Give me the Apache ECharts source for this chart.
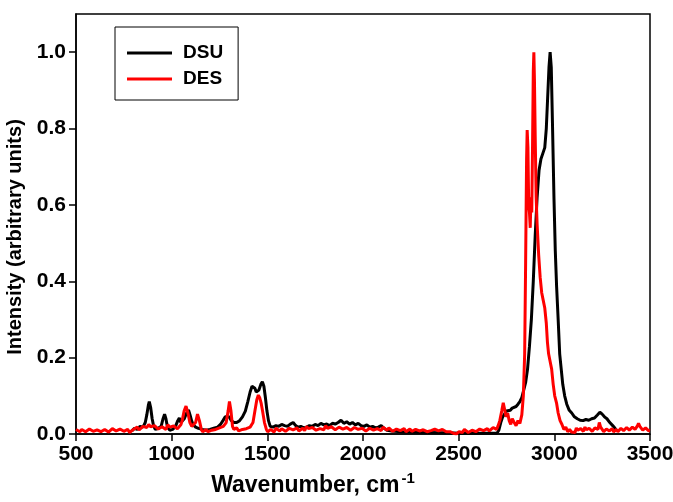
<!DOCTYPE html>
<html lang="en">
  <head>
    <meta charset="UTF-8" />
    <title>DSU / DES spectra</title>
    <script src="https://cdn.jsdelivr.net/npm/echarts@6/dist/echarts.min.js"></script>
    <style>
      html, body { margin: 0; padding: 0; background: #fff; }
      #chart { width: 673px; height: 502px; }
    </style>
  </head>
  <body>
    <div id="chart"></div>
    <script>
      // axis ticks
      var xTicks = [500, 1000, 1500, 2000, 2500, 3000, 3500];
      var yTicks = [0.0, 0.2, 0.4, 0.6, 0.8, 1.0];

      // DSU (black) - [wavenumber, intensity]
      var dsu = [
        [792, .008], [805, .015], [820, .012], [835, .020], [850, .018], [862, .030], [870, .050], [878, .075],
        [883, .085], [890, .070], [898, .040], [906, .020], [915, .012], [930, .015], [945, .020], [955, .040],
        [963, .052], [970, .040], [978, .018], [990, .010], [1005, .012], [1020, .020], [1032, .035], [1040, .042],
        [1048, .030], [1056, .025], [1066, .040], [1078, .055], [1088, .063], [1096, .050], [1104, .035], [1112, .025],
        [1125, .018], [1140, .015], [1160, .012], [1180, .010], [1200, .012], [1220, .015], [1240, .018], [1255, .025],
        [1268, .035], [1280, .045], [1290, .050], [1300, .045], [1312, .035], [1325, .030], [1340, .030], [1355, .035],
        [1370, .045], [1385, .060], [1398, .085], [1410, .110], [1420, .125], [1427, .130], [1435, .120], [1442, .110],
        [1448, .107], [1456, .115], [1466, .130], [1474, .137], [1482, .125], [1490, .095], [1498, .060], [1506, .035],
        [1515, .020], [1530, .018], [1545, .022], [1560, .020], [1575, .025], [1590, .022], [1605, .020], [1620, .026],
        [1635, .030], [1648, .022], [1660, .018], [1675, .020], [1690, .016], [1705, .018], [1720, .022], [1735, .020],
        [1750, .025], [1765, .022], [1780, .028], [1795, .024], [1810, .026], [1825, .022], [1840, .028], [1855, .026],
        [1870, .030], [1885, .036], [1900, .028], [1915, .032], [1930, .026], [1945, .030], [1960, .024], [1975, .028],
        [1990, .022], [2005, .020], [2020, .024], [2035, .018], [2050, .020], [2065, .016], [2080, .018], [2095, .022],
        [2110, .015], [2125, .010], [2150, .008], [2200, .006], [2250, .005], [2300, .004], [2350, .004], [2400, .003],
        [2450, .003], [2500, .002], [2550, .002], [2600, .002], [2650, .002], [2700, .002], [2710, .010], [2720, .030],
        [2730, .045], [2740, .050], [2750, .060], [2760, .065], [2770, .062], [2780, .068], [2790, .070], [2800, .072],
        [2810, .078], [2820, .085], [2830, .095], [2840, .115], [2850, .135], [2860, .17], [2870, .23], [2880, .30],
        [2890, .40], [2900, .52], [2910, .62], [2920, .69], [2930, .72], [2940, .735], [2950, .75], [2958, .80],
        [2965, .88], [2972, .96], [2978, 1.0], [2984, .96], [2990, .82], [2998, .62], [3005, .48], [3012, .385],
        [3020, .30], [3028, .21], [3036, .17], [3044, .13], [3054, .10], [3065, .078], [3078, .062], [3091, .055],
        [3105, .045], [3120, .040], [3135, .036], [3150, .035], [3165, .038], [3180, .036], [3195, .040], [3210, .042],
        [3225, .050], [3238, .057], [3250, .052], [3262, .045], [3275, .040], [3290, .030], [3305, .022], [3317, .015],
        [3325, .008]
      ];

      // DES (red)
      var des = [
        [500, .012], [510, .007], [520, .006], [530, .012], [540, .014], [550, .006], [560, .008], [570, .013],
        [580, .011], [590, .007], [600, .005], [610, .011], [620, .013], [630, .006], [640, .007], [650, .012],
        [660, .012], [670, .005], [680, .009], [690, .014], [700, .015], [710, .008], [720, .006], [730, .013],
        [740, .013], [750, .007], [760, .010], [770, .012], [780, .004], [790, .009], [800, .012], [810, .016],
        [820, .018], [830, .011], [840, .014], [850, .020], [860, .022], [870, .017], [880, .025], [890, .019],
        [900, .016], [910, .022], [920, .020], [930, .013], [940, .012], [950, .019], [960, .018], [970, .012],
        [980, .024], [990, .018], [1000, .015], [1010, .021], [1020, .020], [1030, .014], [1040, .018], [1048, .024],
        [1055, .035], [1065, .060], [1075, .073], [1085, .055], [1095, .030], [1105, .020], [1115, .015], [1125, .030],
        [1135, .052], [1145, .035], [1155, .012], [1162, .006], [1170, .008], [1180, .012], [1190, .006], [1200, .004],
        [1210, .010], [1220, .007], [1230, .012], [1240, .009], [1250, .016], [1260, .012], [1270, .020], [1278, .018],
        [1285, .030], [1295, .060], [1302, .085], [1310, .060], [1318, .020], [1325, .012], [1330, .010], [1340, .016],
        [1350, .008], [1360, .013], [1370, .012], [1380, .017], [1390, .014], [1400, .010], [1410, .018], [1418, .022],
        [1425, .030], [1435, .060], [1445, .090], [1453, .102], [1460, .095], [1468, .080], [1475, .060], [1485, .030],
        [1495, .012], [1502, .006], [1510, .004], [1518, .012], [1525, .010], [1535, .005], [1545, .015], [1555, .012],
        [1565, .008], [1575, .014], [1585, .016], [1595, .007], [1605, .010], [1615, .015], [1625, .018], [1635, .011],
        [1645, .012], [1655, .016], [1665, .008], [1675, .012], [1685, .015], [1695, .009], [1705, .020], [1715, .014],
        [1725, .012], [1735, .017], [1745, .018], [1755, .010], [1765, .010], [1775, .014], [1785, .016], [1795, .011],
        [1805, .022], [1815, .015], [1825, .012], [1835, .019], [1845, .018], [1855, .011], [1865, .014], [1875, .018],
        [1885, .020], [1895, .013], [1905, .010], [1915, .017], [1925, .016], [1935, .010], [1945, .012], [1955, .017],
        [1965, .018], [1975, .012], [1985, .009], [1995, .015], [2005, .014], [2015, .008], [2025, .010], [2035, .015],
        [2045, .016], [2055, .010], [2065, .008], [2075, .014], [2085, .013], [2095, .009], [2105, .018], [2115, .013],
        [2125, .010], [2135, .016], [2145, .014], [2155, .007], [2165, .008], [2175, .013], [2185, .016], [2195, .009],
        [2205, .011], [2215, .014], [2225, .006], [2235, .010], [2245, .013], [2255, .007], [2265, .009], [2275, .012],
        [2285, .015], [2295, .008], [2305, .007], [2315, .011], [2325, .012], [2335, .006], [2345, .005], [2355, .009],
        [2365, .010], [2375, .013], [2385, .014], [2395, .008], [2405, .006], [2415, .012], [2425, .011], [2435, .006],
        [2445, .008], [2455, .006], [2465, .004], [2472, .002], [2480, .001], [2488, .000], [2495, .002], [2502, .006],
        [2510, .008], [2520, .004], [2530, .012], [2540, .009], [2550, .004], [2560, .007], [2570, .010], [2580, .013],
        [2590, .006], [2600, .009], [2610, .013], [2620, .015], [2630, .009], [2640, .012], [2650, .014], [2660, .008],
        [2670, .010], [2680, .017], [2690, .016], [2698, .012], [2705, .020], [2715, .035], [2725, .060], [2733, .082],
        [2740, .065], [2748, .045], [2756, .055], [2764, .035], [2772, .025], [2780, .040], [2790, .030], [2800, .022],
        [2810, .035], [2820, .028], [2830, .050], [2838, .10], [2845, .21], [2850, .45], [2855, .72], [2858, .796],
        [2862, .75], [2866, .60], [2870, .58], [2874, .54], [2878, .62], [2882, .58], [2886, .75], [2890, .95],
        [2893, 1.0], [2896, .93], [2900, .78], [2905, .62], [2910, .55], [2918, .47], [2926, .41], [2934, .37],
        [2942, .35], [2950, .33], [2958, .29], [2964, .24], [2970, .21], [2978, .19], [2986, .17], [2994, .13],
        [3002, .10], [3012, .08], [3020, .055], [3030, .035], [3040, .025], [3050, .012], [3060, .018], [3070, .006],
        [3080, .012], [3090, .005], [3100, .010], [3108, .004], [3115, .016], [3122, .010], [3130, .006], [3138, .014],
        [3145, .012], [3152, .007], [3160, .018], [3168, .011], [3175, .008], [3182, .015], [3190, .014], [3198, .007],
        [3205, .010], [3212, .016], [3220, .020], [3228, .012], [3235, .030], [3242, .018], [3250, .012], [3258, .006],
        [3265, .008], [3272, .013], [3280, .015], [3288, .008], [3295, .010], [3302, .014], [3310, .006], [3318, .010],
        [3325, .012], [3332, .006], [3340, .008], [3348, .015], [3355, .014], [3362, .009], [3370, .010], [3378, .017],
        [3385, .016], [3392, .010], [3400, .012], [3408, .018], [3415, .020], [3422, .012], [3430, .015], [3435, .022],
        [3440, .028], [3447, .020], [3455, .018], [3462, .010], [3470, .010], [3477, .016], [3485, .016], [3492, .009],
        [3500, .008]
      ];

      var chart = echarts.init(document.getElementById('chart'));

      var font = 'Liberation Sans, Arial, sans-serif';

      var option = {
        animation: false,
        grid: {
          left: 76,
          right: 23,
          top: 14,
          bottom: 68,
          outerBoundsMode: 'none',
          containLabel: false,
          show: true,
          borderColor: '#000',
          borderWidth: 1.5
        },
        legend: {
          left: 115,
          top: 27,
          orient: 'vertical',
          data: ['DSU', 'DES'],
          icon: 'rect',
          borderColor: '#000',
          borderWidth: 1,
          padding: [13, 15, 8, 12],
          itemWidth: 45,
          itemHeight: 3,
          itemGap: 0,
          textStyle: {
            fontFamily: font,
            fontWeight: 'bold',
            fontSize: 19,
            lineHeight: 26,
            color: '#000',
            padding: [0, 0, 0, 6]
          }
        },
        xAxis: {
          type: 'value',
          min: xTicks[0],
          max: xTicks[xTicks.length - 1],
          interval: 500,
          name: '{a|Wavenumber, cm}{b|-1}',
          nameLocation: 'middle',
          nameGap: 37,
          nameTextStyle: {
            padding: [0, 100, 0, 0],
            rich: {
              a: { fontFamily: font, fontWeight: 'bold', fontSize: 23, color: '#000', verticalAlign: 'bottom', lineHeight: 26 },
              b: { fontFamily: font, fontWeight: 'bold', fontSize: 15, color: '#000', verticalAlign: 'top', lineHeight: 26, padding: [0, 0, 12, 2] }
            }
          },
          axisLine: { show: true, lineStyle: { color: '#000', width: 1.5 } },
          axisTick: { show: true, inside: false, length: 7, lineStyle: { color: '#000', width: 1.5 } },
          axisLabel: {
            margin: 10,
            fontFamily: font,
            fontWeight: 'bold',
            fontSize: 21,
            color: '#000',
            formatter: function (v) { return String(v); }
          },
          splitLine: { show: false }
        },
        yAxis: {
          type: 'value',
          min: yTicks[0],
          max: 1.1,
          interval: 0.2,
          name: 'Intensity (arbitrary units)',
          nameLocation: 'middle',
          nameGap: 45,
          nameTextStyle: {
            fontFamily: font,
            fontWeight: 'bold',
            fontSize: 20,
            color: '#000',
            padding: [0, 26, 0, 0]
          },
          axisLine: { show: true, lineStyle: { color: '#000', width: 1.5 } },
          axisTick: { show: true, inside: false, length: 7, lineStyle: { color: '#000', width: 1.5 } },
          axisLabel: {
            margin: 10,
            showMaxLabel: false,
            fontFamily: font,
            fontWeight: 'bold',
            fontSize: 21,
            color: '#000',
            formatter: function (v) { return v.toFixed(1); }
          },
          splitLine: { show: false }
        },
        series: [
          {
            name: 'DSU',
            type: 'line',
            data: dsu,
            symbol: 'none',
            lineStyle: { color: '#000', width: 3 },
            itemStyle: { color: '#000' }
          },
          {
            name: 'DES',
            type: 'line',
            data: des,
            symbol: 'none',
            lineStyle: { color: '#ff0000', width: 3 },
            itemStyle: { color: '#ff0000' }
          }
        ]
      };

      chart.setOption(option);
    </script>
  </body>
</html>
